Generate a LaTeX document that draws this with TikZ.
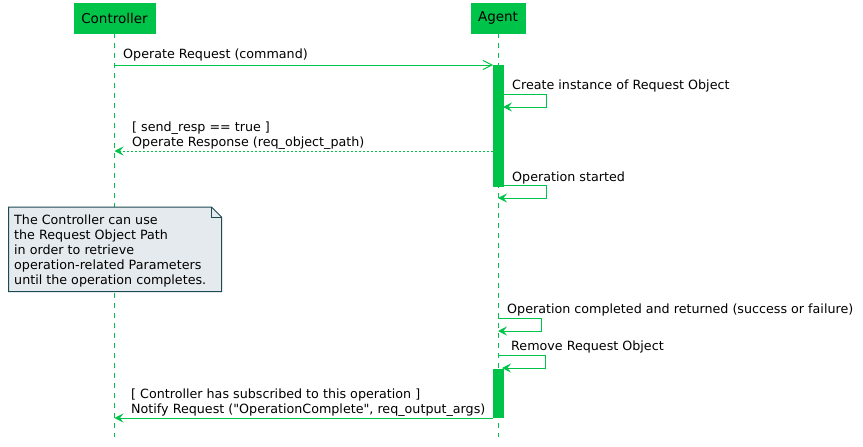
\documentclass[tikz,border=0pt]{standalone}
\usepackage{fontspec}
\setmainfont{DejaVu Sans}[Ligatures=TeXOff]
\usetikzlibrary{arrows.meta}
\definecolor{pgreen}{HTML}{00C34A}
\definecolor{notefill}{HTML}{E5EAEE}
\definecolor{noteline}{HTML}{1D4A52}
\tikzset{
  x=1pt, y=-1pt,
  txt/.style={font=\fontsize{12.7}{15}\selectfont, inner sep=0pt, anchor=base west, text=black},
  head/.style={fill=pgreen, draw=pgreen, minimum height=30pt, inner sep=0pt, font=\fontsize{13.5}{16}\selectfont, text=black},
  lifeline/.style={draw=pgreen, line width=0.9pt, dash pattern=on 5pt off 5pt},
  msg/.style={draw=pgreen, line width=1pt, -{Stealth[length=9pt,width=9pt,inset=3.5pt,fill=pgreen]}},
  asyncmsg/.style={draw=pgreen, line width=1pt, -{Straight Barb[length=9pt,width=9pt]}},
  retmsg/.style={msg, dash pattern=on 2pt off 2pt},
  actbar/.style={fill=pgreen, draw=pgreen, line width=0.5pt},
  notebox/.style={fill=notefill, draw=noteline, line width=1pt}
}
\begin{document}
\begin{tikzpicture}
\useasboundingbox[fill=white] (0,0) rectangle (863,447);

% headers
\node[head, minimum width=81pt] (ctrl) at (114.5,18) {Controller};
\node[head, minimum width=54pt] (agent) at (498,18) {Agent};

% lifelines
\coordinate (ctrlend) at (114.5,437);
\coordinate (agentend) at (498,437);
\draw[lifeline] (ctrl.south) -- (ctrlend);
\draw[lifeline] (agent.south) -- (agentend);

% activation bars
\node[actbar, minimum width=10pt, minimum height=121pt, inner sep=0pt, anchor=north] (act1) at (498,65) {};
\node[actbar, minimum width=10pt, minimum height=48pt, inner sep=0pt, anchor=north] (act2) at (498,369) {};

% message 1
\coordinate (m1s) at (114.5,65);
\coordinate (m1e) at (493,65);
\draw[asyncmsg] (m1s) -- (m1e);
\node[txt] (l1) at (123,58) {Operate Request (command)};

% self message: create instance
\coordinate (s1a) at (503,94);
\coordinate (s1b) at (546,94);
\coordinate (s1c) at (546,107);
\coordinate (s1d) at (503,107);
\draw[msg] (s1a) -- (s1b) -- (s1c) -- (s1d);
\node[txt] (l2) at (512,89) {Create instance of Request Object};

% return message
\coordinate (r1s) at (493,151);
\coordinate (r1e) at (114.5,151);
\draw[retmsg] (r1s) -- (r1e);
\node[txt] (l3a) at (132,131) {[ send\_resp == true ]};
\node[txt] (l3b) at (132,146) {Operate Response (req\_object\_path)};

% self message: operation started
\coordinate (s2a) at (503,185);
\coordinate (s2b) at (546,185);
\coordinate (s2c) at (546,198);
\coordinate (s2d) at (498,198);
\draw[msg] (s2a) -- (s2b) -- (s2c) -- (s2d);
\node[txt] (l4) at (512,181) {Operation started};

% note
\path[notebox] (8.5,207) -- (211.5,207) -- (221.5,217) -- (221.5,291.5) -- (8.5,291.5) -- cycle;
\draw[noteline, line width=1pt] (211.5,207) -- (211.5,217) -- (221.5,217);
\node[txt] (n1) at (14,224) {The Controller can use};
\node[txt] (n2) at (14,239) {the Request Object Path};
\node[txt] (n3) at (14,254.5) {in order to retrieve};
\node[txt] (n4) at (14,269.5) {operation-related Parameters};
\node[txt] (n5) at (14,284.5) {until the operation completes.};

% self message: operation completed
\coordinate (s3a) at (498,318);
\coordinate (s3b) at (541,318);
\coordinate (s3c) at (541,331);
\coordinate (s3d) at (498,331);
\draw[msg] (s3a) -- (s3b) -- (s3c) -- (s3d);
\node[txt] (l5) at (507,313) {Operation completed and returned (success or failure)};

% self message: remove request object
\coordinate (s4a) at (498,355);
\coordinate (s4b) at (545,355);
\coordinate (s4c) at (545,368);
\coordinate (s4d) at (502,368);
\draw[msg] (s4a) -- (s4b) -- (s4c) -- (s4d);
\node[txt] (l6) at (511,350) {Remove Request Object};

% notify message
\coordinate (m2s) at (493,418);
\coordinate (m2e) at (114.5,418);
\draw[msg] (m2s) -- (m2e);
\node[txt] (l7a) at (131,398) {[ Controller has subscribed to this operation ]};
\node[txt] (l7b) at (131,413) {Notify Request ("OperationComplete", req\_output\_args)};
\end{tikzpicture}
\end{document}
